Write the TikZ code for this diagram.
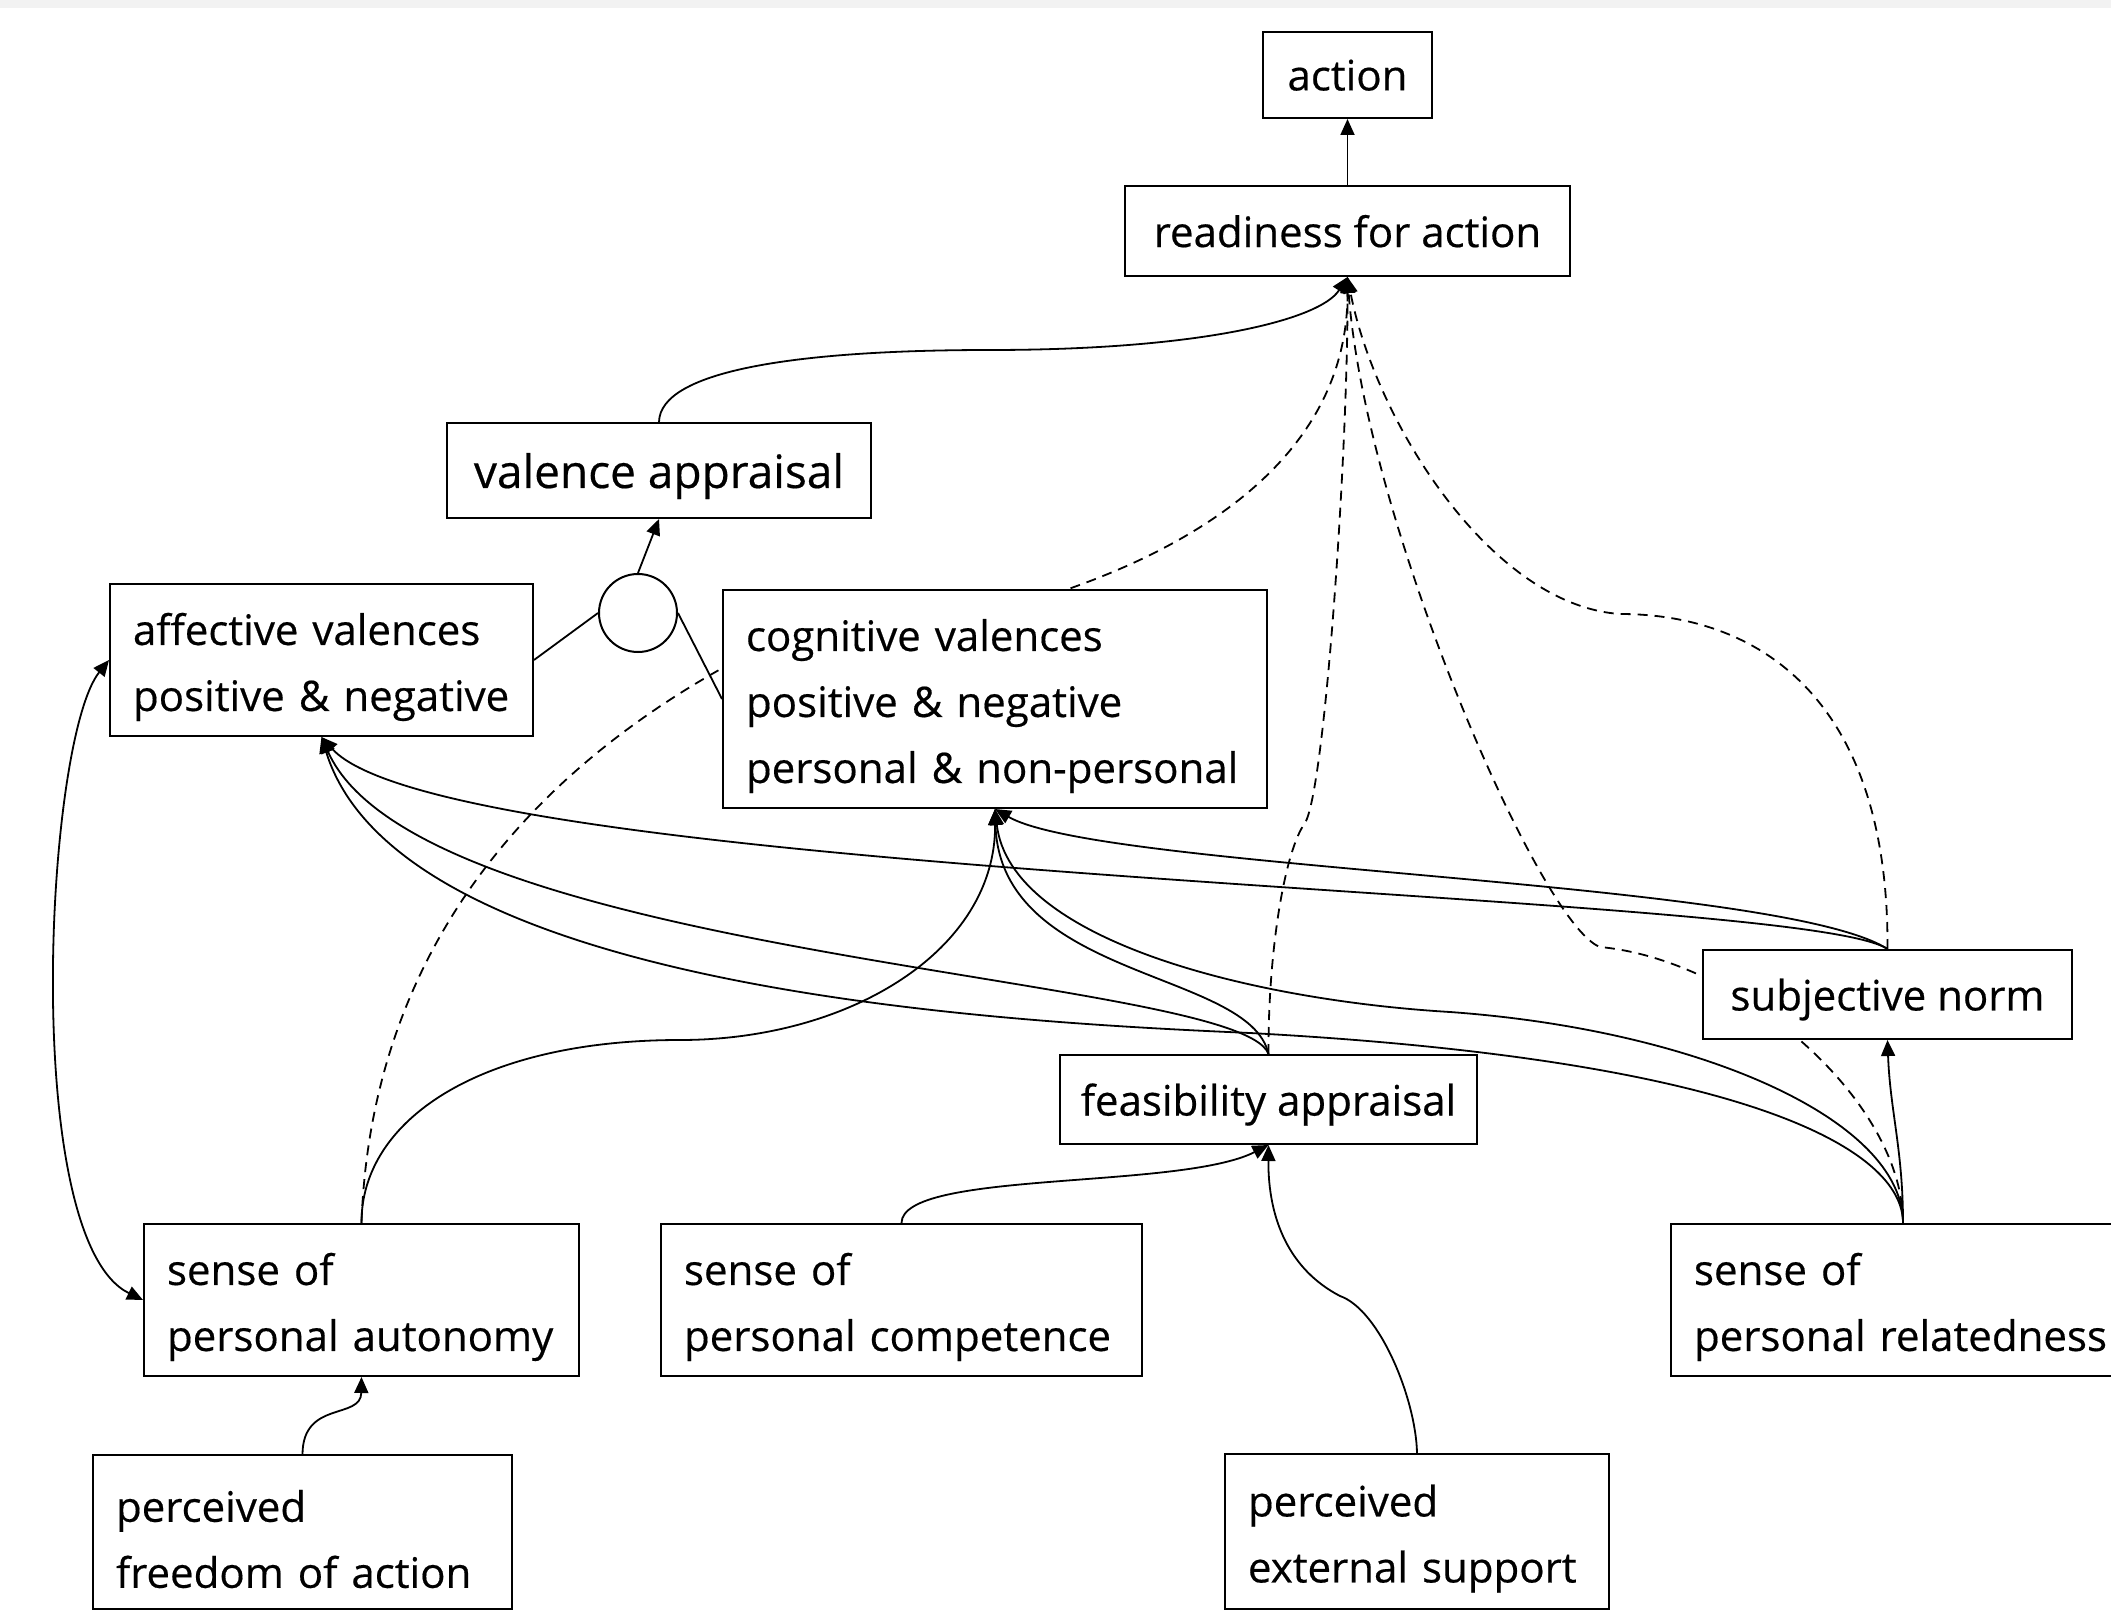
\documentclass[tikz,border=0pt]{standalone}
\usepackage{fontspec}
\setmainfont{Open Sans}[FakeBold=0.4]
\usetikzlibrary{arrows.meta,backgrounds}
\begin{document}
\begin{tikzpicture}[x=0.5pt,y=-0.5pt,
  every node/.style={font=\fontsize{21pt}{33pt}\selectfont},
  bx/.style={draw, line width=1pt, fill=white, inner sep=0pt, align=center, text depth=0pt},
  lbx/.style={draw, line width=1pt, fill=white, inner xsep=11.5pt, inner ysep=0pt, align=left,
    execute at begin node={\rule{0pt}{23pt}}},
  ln/.style={line width=0.9pt},
  con/.style={line width=0.9pt, -{Triangle[length=8pt,width=7pt]}},
  dsh/.style={con, dash pattern=on 5pt off 3.5pt},
  both/.style={line width=0.9pt, {Triangle[length=8pt,width=7pt]}-{Triangle[length=8pt,width=7pt]}}
]
\useasboundingbox (0,0) rectangle (2111,1610);
\fill[black!5] (0,0) rectangle (2111,8);

% nodes
\node[bx, minimum width=84.5pt, minimum height=43pt] (act) at (1347.5,75) {action};
\node[bx, minimum width=222.5pt, minimum height=45pt] (rdy) at (1347.5,231) {readiness for action};
\node[bx, minimum width=212pt, minimum height=47.5pt, font=\fontsize{23pt}{30pt}\selectfont] (val) at (659,470.5) {valence appraisal};
\node[lbx, minimum width=211.5pt, minimum height=76pt, text width=188.5pt] (aff) at (321.5,660) {affective valences\\positive \& negative};
\node[circle, draw, line width=1pt, fill=white, minimum size=39pt, inner sep=0pt] (cir) at (638,613) {};
\node[lbx, minimum width=272pt, minimum height=109pt, text width=249pt] (cog) at (995,699) {cognitive valences\\positive \& negative\\personal \& non-personal};
\node[bx, minimum width=184.5pt, minimum height=44.5pt] (sub) at (1887.5,994.5) {subjective norm};
\node[bx, minimum width=208.5pt, minimum height=44.5pt] (fea) at (1268.5,1099.5) {feasibility appraisal};
\node[lbx, minimum width=217.5pt, minimum height=76pt, text width=194.5pt] (aut) at (361.5,1300) {sense of\\personal autonomy};
\node[lbx, minimum width=240.5pt, minimum height=76pt, text width=217.5pt] (com) at (901.5,1300) {sense of\\personal competence};
\node[lbx, minimum width=232pt, minimum height=76pt, text width=209pt] (rel) at (1903,1300) {sense of\\personal relatedness};
\node[lbx, minimum width=209.5pt, minimum height=77pt, text width=186.5pt] (fre) at (302.5,1532) {perceived\\freedom of action};
\node[lbx, minimum width=192pt, minimum height=77.5pt, text width=169pt] (ext) at (1417,1531.5) {perceived\\external support};

\begin{scope}[on background layer]
% top
\draw[con] (rdy.north) -- (act.south);
\draw[con] (val.north) .. controls (660,370) and (800,350) .. (990,350)
  .. controls (1200,350) and (1320,320) .. (rdy.south);
\draw[con] (cir.north) -- (val.south);
\draw[ln] (aff.east) -- (cir.west);
\draw[ln] (cir.east) -- (cog.west);
% dashed into readiness
\draw[dsh] (aut.north) .. controls (370,980) and (500,780) .. (760,648) -- (1000,610)
  .. controls (1150,570) and (1348,480) .. (rdy.south);
\draw[dsh] (fea.north) .. controls (1268,950) and (1285,850) .. (1305,823)
  .. controls (1325,790) and (1348,450) .. (rdy.south);
\draw[dsh] (rel.north) .. controls (1903,1100) and (1740,960) .. (1600,947)
  .. controls (1540,925) and (1365,520) .. (rdy.south);
\draw[dsh] (sub.north) .. controls (1889,700) and (1760,614) .. (1620,614)
  .. controls (1490,605) and (1375,420) .. (rdy.south);
% into affective
\draw[con] (sub.north) .. controls (1800,890) and (450,880) .. (aff.south);
\draw[con] (fea.north) .. controls (1240,975) and (420,960) .. (aff.south);
\draw[con] (rel.north) .. controls (1903,1150) and (1750,1060) .. (1250,1033)
  .. controls (1000,1022) and (400,990) .. (aff.south);
% into cognitive
\draw[con] (sub.north) .. controls (1780,880) and (1100,870) .. (cog.south);
\draw[con] (fea.north) .. controls (1250,970) and (1000,980) .. (cog.south);
\draw[con] (rel.north) .. controls (1903,1120) and (1700,1030) .. (1450,1012)
  .. controls (1250,1000) and (1010,940) .. (cog.south);
\draw[con] (aut.north) .. controls (361,1120) and (480,1040) .. (680,1040)
  .. controls (850,1040) and (996,950) .. (cog.south);
% lower
\draw[con] (rel.north) .. controls (1903,1150) and (1890,1110) .. (sub.south);
\draw[con] (com.north) .. controls (902,1170) and (1180,1190) .. (fea.south);
\draw[con] (ext.north) .. controls (1416,1400) and (1380,1310) .. (1340,1296)
  .. controls (1290,1270) and (1268,1220) .. (fea.south);
\draw[con] (fre.north) .. controls (303,1400) and (361,1420) .. (aut.south);
\draw[both] (aff.west) .. controls (45,740) and (20,1240) .. (aut.west);
\end{scope}
\end{tikzpicture}
\end{document}
